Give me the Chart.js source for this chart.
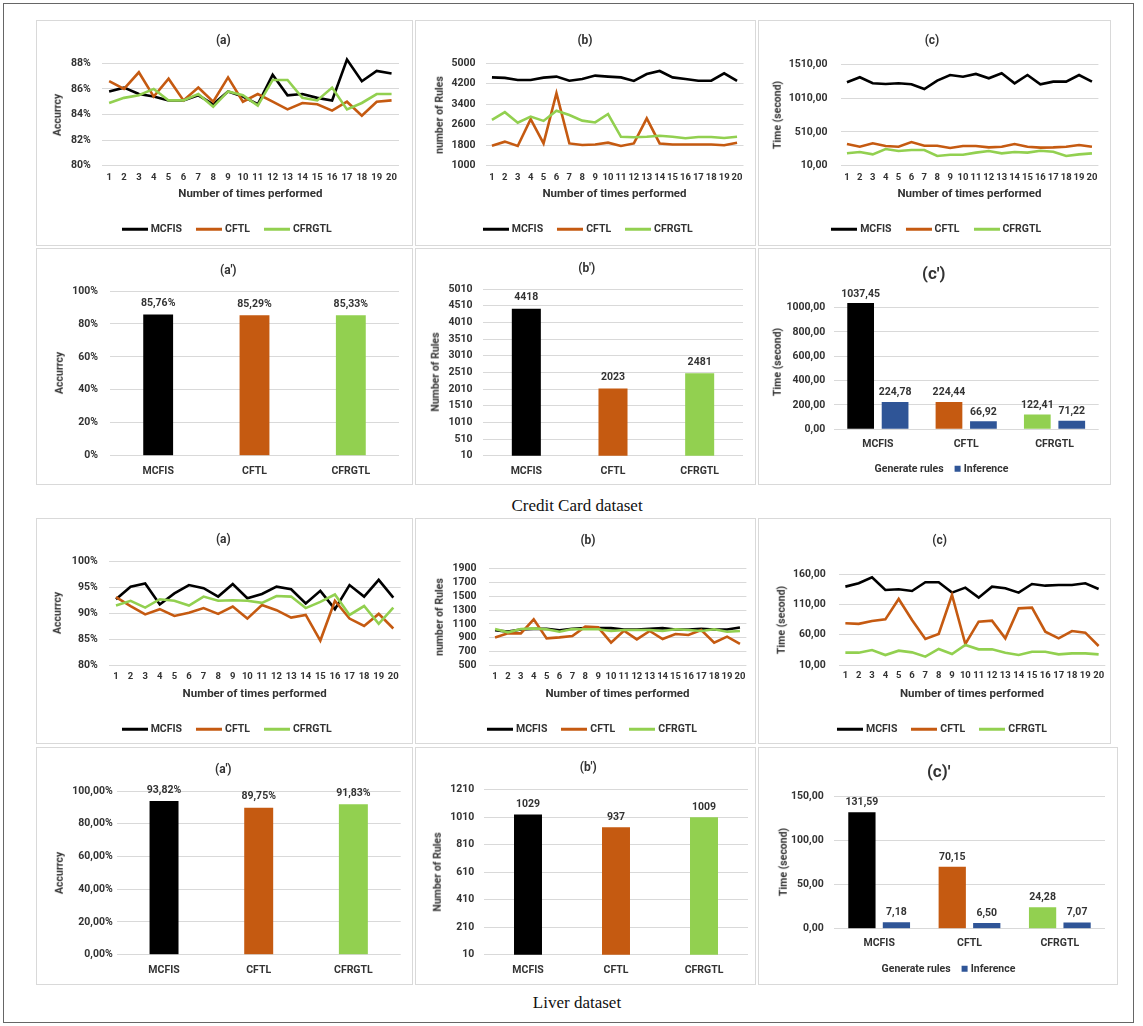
<!DOCTYPE html>
<html>
<head>
<meta charset="utf-8">
<title>MCFIS, CFTL, CFRGTL comparison</title>
<script src="https://cdn.jsdelivr.net/npm/chart.js@4.4.1/dist/chart.umd.min.js"></script>
<style>
  html, body { margin: 0; padding: 0; background: #fff; }
  body { position: relative; width: 1143px; height: 1026px; overflow: hidden; font-family: Roboto, "Open Sans", sans-serif; }
  #frame { position: absolute; left: 3px; top: 3px; width: 1131px; height: 1020px; border: 1px solid #666; box-sizing: border-box; }
  .panel { position: absolute; border: 1px solid #d9d9d9; box-sizing: border-box; background: #fff; }
  canvas { position: absolute; }
  .caption { position: absolute; transform: translate(-50%, -50%); font: 17px "Liberation Serif", "Times New Roman", serif; color: #111; white-space: nowrap; }
</style>
</head>
<body>
<div id="frame"></div>
<div class="caption" style="left:577px;top:506px">Credit Card dataset</div>
<div class="caption" style="left:577px;top:1003px">Liver dataset</div>
<script>
// ---------- categories ----------
const runs = ['1','2','3','4','5','6','7','8','9','10','11','12','13','14','15','16','17','18','19','20'];
const methods = ['MCFIS', 'CFTL', 'CFRGTL'];
const timeParts = ['Generate rules', 'Inference'];

// ---------- Credit Card: per-run results ----------
const creditAccMCFIS   = [85.8, 86.1, 85.6, 85.4, 85.1, 85.1, 85.5, 84.8, 85.8, 85.4, 84.8, 87.1, 85.5, 85.6, 85.3, 85.1, 88.3, 86.6, 87.4, 87.2];
const creditAccCFTL    = [86.6, 86.0, 87.3, 85.4, 86.8, 85.1, 86.1, 85.0, 86.9, 85.0, 85.6, 85.0, 84.4, 84.9, 84.8, 84.3, 85.0, 83.9, 85.0, 85.1];
const creditAccCFRGTL  = [84.9, 85.3, 85.5, 86.0, 85.1, 85.1, 85.6, 84.6, 85.8, 85.5, 84.7, 86.7, 86.7, 85.3, 85.1, 86.1, 84.4, 84.9, 85.6, 85.6];

const creditRulesMCFIS  = [4450, 4430, 4350, 4350, 4440, 4480, 4320, 4390, 4520, 4480, 4450, 4310, 4580, 4700, 4450, 4390, 4320, 4320, 4610, 4310];
const creditRulesCFTL   = [1780, 1940, 1770, 2820, 1870, 3830, 1870, 1810, 1830, 1900, 1770, 1870, 2850, 1870, 1830, 1830, 1830, 1830, 1800, 1900];
const creditRulesCFRGTL = [2790, 3090, 2680, 2920, 2750, 3150, 2980, 2760, 2690, 3020, 2130, 2110, 2130, 2170, 2130, 2070, 2120, 2120, 2080, 2130];

const creditTimeMCFIS  = [1244, 1318, 1229, 1219, 1229, 1214, 1145, 1268, 1352, 1327, 1367, 1303, 1377, 1229, 1352, 1214, 1253, 1253, 1352, 1253];
const creditTimeCFTL   = [331, 291, 341, 301, 291, 360, 306, 306, 272, 301, 301, 281, 291, 331, 291, 277, 281, 291, 316, 291];
const creditTimeCFRGTL = [193, 212, 178, 257, 227, 242, 242, 153, 173, 173, 203, 227, 193, 212, 203, 232, 217, 153, 178, 193];

// ---------- Credit Card: averages ----------
const creditAvgAcc   = [85.76, 85.29, 85.33];
const creditAvgRules = [4418, 2023, 2481];
const creditGenTime  = [1037.45, 224.44, 122.41];
const creditInfTime  = [224.78, 66.92, 71.22];

// ---------- Liver: per-run results ----------
const liverAccMCFIS  = [92.7, 95.1, 95.7, 91.7, 93.8, 95.4, 94.8, 93.2, 95.6, 92.9, 93.7, 95.1, 94.6, 91.9, 94.3, 90.8, 95.4, 93.2, 96.4, 93.0];
const liverAccCFTL   = [93.1, 91.4, 89.8, 90.8, 89.5, 90.1, 91.0, 89.9, 91.3, 89.0, 91.6, 90.6, 89.2, 89.7, 84.8, 92.4, 89.0, 87.6, 89.9, 87.1];
const liverAccCFRGTL = [91.5, 92.4, 91.1, 92.7, 92.4, 91.5, 93.2, 92.4, 92.5, 92.4, 92.0, 93.3, 93.2, 91.0, 92.2, 93.6, 89.7, 91.4, 88.0, 91.1];

const liverRulesMCFIS  = [1010, 990, 1020, 1030, 1030, 1010, 1030, 1040, 1040, 1040, 1020, 1020, 1030, 1040, 1020, 1020, 1030, 1020, 1020, 1050];
const liverRulesCFTL   = [907, 965, 965, 1166, 893, 907, 927, 1061, 1051, 831, 1003, 879, 999, 883, 955, 941, 1013, 831, 917, 812];
const liverRulesCFRGTL = [1027, 979, 1027, 1037, 1023, 989, 1027, 1023, 1023, 999, 1013, 1013, 1013, 999, 1023, 1013, 999, 1023, 989, 999];

const liverTimeMCFIS  = [139.6, 145.1, 155.0, 134.0, 135.2, 132.4, 146.8, 146.8, 129.7, 138.0, 121.4, 139.6, 136.8, 129.7, 144.0, 141.2, 142.4, 142.4, 145.1, 135.7];
const liverTimeCFTL   = [79.0, 78.0, 82.8, 85.5, 119.2, 84.4, 53.0, 61.3, 125.8, 44.7, 81.7, 83.3, 54.0, 103.7, 104.8, 65.1, 54.0, 66.2, 63.5, 41.4];
const liverTimeCFRGTL = [30.4, 30.4, 34.8, 26.5, 33.7, 30.9, 23.8, 36.5, 28.2, 43.1, 35.9, 35.9, 30.4, 26.5, 32.0, 32.0, 27.6, 29.3, 29.3, 27.6];

// ---------- Liver: averages ----------
const liverAvgAcc   = [93.82, 89.75, 91.83];
const liverAvgRules = [1029, 937, 1009];
const liverGenTime  = [131.59, 70.15, 24.28];
const liverInfTime  = [7.18, 6.50, 7.07];

// ---------- value-axis tick values ----------
const creditAccTicks      = [80, 82, 84, 86, 88];
const creditRulesTicks    = [1000, 1800, 2600, 3400, 4200, 5000];
const creditTimeTicks     = [10, 510, 1010, 1510];
const creditAvgAccTicks   = [0, 20, 40, 60, 80, 100];
const creditAvgRulesTicks = [10, 510, 1010, 1510, 2010, 2510, 3010, 3510, 4010, 4510, 5010];
const creditAvgTimeTicks  = [0, 200, 400, 600, 800, 1000];
const liverAccTicks       = [80, 85, 90, 95, 100];
const liverRulesTicks     = [500, 700, 900, 1100, 1300, 1500, 1700, 1900];
const liverTimeTicks      = [10, 60, 110, 160];
const liverAvgAccTicks    = [0, 20, 40, 60, 80, 100];
const liverAvgRulesTicks  = [10, 210, 410, 610, 810, 1010, 1210];
const liverAvgTimeTicks   = [0, 50, 100, 150];

// ---------- styling ----------
const methodColors = ['#000000', '#C55A11', '#92D050'];
const inferenceColor = '#2F5597';
const textColor = '#333333';
const gridColor = '#d9d9d9';
const FONT = 'Roboto, "Open Sans", sans-serif';

const pct0 = v => v + '%';
const dec2 = v => Number(v).toFixed(2).replace('.', ',');
const pct2 = v => dec2(v) + '%';
const int0 = v => String(v);

// value labels above bars
const barLabelSettings = new WeakMap();
Chart.register({
  id: 'barValueLabels',
  afterDatasetsDraw(chart) {
    const s = barLabelSettings.get(chart.canvas);
    if (!s) return;
    const ctx = chart.ctx;
    ctx.save();
    ctx.font = 'bold 10.5px ' + FONT;
    ctx.fillStyle = textColor;
    ctx.textAlign = 'center';
    ctx.textBaseline = 'alphabetic';
    chart.data.datasets.forEach((ds, i) => {
      chart.getDatasetMeta(i).data.forEach((el, j) => {
        ctx.fillText(s.fmt(ds.data[j]), el.x, el.y - s.gap + 4);
      });
    });
    ctx.restore();
  }
});

function addText(str, x, y, size, rot) {
  const d = document.createElement('div');
  d.textContent = str;
  d.style.cssText = 'position:absolute;left:' + x + 'px;top:' + y + 'px;font:700 ' + size + 'px ' + FONT +
    ';color:' + textColor + ';white-space:nowrap;line-height:1;transform:translate(-50%,-50%)' + (rot ? ' rotate(-90deg)' : '') + ';';
  document.body.appendChild(d);
}

function addLegend(items, cx, y, kind) {
  const wrap = document.createElement('div');
  wrap.style.cssText = 'position:absolute;left:' + cx + 'px;top:' + y + 'px;transform:translate(-50%,-50%);display:flex;align-items:center;gap:' +
    (kind === 'line' ? 14 : 11) + 'px;white-space:nowrap;font:700 10.5px ' + FONT + ';color:' + textColor + ';line-height:1;';
  items.forEach(([name, color]) => {
    const it = document.createElement('span');
    it.style.cssText = 'display:flex;align-items:center;gap:3px;';
    const sw = document.createElement('span');
    sw.style.cssText = kind === 'line'
      ? 'display:inline-block;width:26px;height:3px;background:' + color + ';'
      : 'display:inline-block;width:6px;height:6px;background:' + color + ';';
    const tx = document.createElement('span');
    tx.textContent = name;
    it.appendChild(sw); it.appendChild(tx);
    wrap.appendChild(it);
  });
  document.body.appendChild(wrap);
}

function makePanel(p) {
  const [bl, bt, br, bb] = p.box;
  const [al, at, ar, ab] = p.area;
  const frame = document.createElement('div');
  frame.className = 'panel';
  frame.style.cssText = 'left:' + bl + 'px;top:' + bt + 'px;width:' + (br - bl) + 'px;height:' + (bb - bt) + 'px;';
  document.body.appendChild(frame);

  const c = document.createElement('canvas');
  c.width = br - bl; c.height = bb - bt;
  c.style.left = bl + 'px'; c.style.top = bt + 'px';
  document.body.appendChild(c);

  // the value axis takes all the room left of the plot so its labels are never cut
  const yW = al - bl, xH = 24;
  const padding = { left: 0, top: at - bt, right: br - ar, bottom: bb - ab - xH };
  const tickVals = p.ticks;
  const yMin = tickVals[0];
  const yMax = p.max !== undefined ? p.max : tickVals[tickVals.length - 1];

  let datasets;
  if (p.kind === 'line') {
    datasets = p.series.map((d, i) => ({
      label: methods[i], data: d, borderColor: methodColors[i], backgroundColor: methodColors[i],
      borderWidth: 2.6, pointRadius: 0, tension: 0, fill: false, order: 2 - i, clip: 8
    }));
  } else if (p.kind === 'bar') {
    datasets = [{ label: 'avg', data: p.series[0], backgroundColor: methodColors, borderWidth: 0,
      barPercentage: p.barPct, categoryPercentage: 1 }];
  } else {
    datasets = [
      { label: timeParts[0], data: p.series[0], backgroundColor: methodColors, borderWidth: 0,
        barPercentage: p.barPct, categoryPercentage: p.catPct },
      { label: timeParts[1], data: p.series[1], backgroundColor: inferenceColor, borderWidth: 0,
        barPercentage: p.barPct, categoryPercentage: p.catPct }
    ];
  }

  if (p.labelFmt) barLabelSettings.set(c, { fmt: p.labelFmt, gap: p.labelGap });

  new Chart(c, {
    type: p.kind === 'line' ? 'line' : 'bar',
    data: { labels: p.kind === 'line' ? runs : methods, datasets },
    options: {
      responsive: false, animation: false, events: [],
      layout: { padding },
      plugins: { legend: { display: false }, title: { display: false }, tooltip: { enabled: false } },
      scales: {
        x: {
          type: 'category', offset: true,
          grid: { display: false, drawTicks: false }, border: { display: false },
          ticks: { color: textColor, font: { family: FONT, size: p.kind === 'line' ? 9.5 : 10.5, weight: 'bold' },
                   padding: p.xPad, maxRotation: 0, autoSkip: false },
          afterFit(s) { s.height = xH; }
        },
        y: {
          min: yMin, max: yMax,
          grid: { color: gridColor, lineWidth: 1, drawTicks: false }, border: { display: false },
          ticks: { color: textColor, font: { family: FONT, size: 10.5, weight: 'bold' }, padding: p.yPad,
                   autoSkip: false, callback: v => p.fmt(v) },
          afterBuildTicks(s) { s.ticks = tickVals.map(v => ({ value: v })); },
          afterFit(s) { s.width = yW; }
        }
      }
    }
  });

  // panel texts
  addText(p.title, p.titleXY[0], p.titleXY[1], p.titleSize || 12);
  addText(p.yTitle, p.yTitleX, (at + ab) / 2, 10.5, true);
  if (p.kind === 'line') {
    addText('Number of times performed', (al + ar) / 2, p.xTitleY, 11.5);
    addLegend(methods.map((m, i) => [m, methodColors[i]]), p.legendXY[0], p.legendXY[1], 'line');
  }
  if (p.kind === 'group') {
    addLegend([[timeParts[0], 'transparent'], [timeParts[1], inferenceColor]], p.legendXY[0], p.legendXY[1], 'bar');
  }
}

const panels = [
  // Credit Card dataset — per-run lines
  { kind: 'line', box: [36, 20, 413, 246], area: [101.7, 63.3, 399, 165.7], ticks: creditAccTicks, fmt: pct0,
    series: [creditAccMCFIS, creditAccCFTL, creditAccCFRGTL], yPad: 11, xPad: 6,
    title: '(a)', titleXY: [223.3, 40], yTitle: 'Accurrcy', yTitleX: 58.3, xTitleY: 194.3, legendXY: [226.7, 229] },
  { kind: 'line', box: [415, 20, 756, 246], area: [485.5, 63.3, 743.5, 165.7], ticks: creditRulesTicks, fmt: int0,
    series: [creditRulesMCFIS, creditRulesCFTL, creditRulesCFRGTL], yPad: 10, xPad: 6,
    title: '(b)', titleXY: [585, 40], yTitle: 'number of Rules', yTitleX: 440, xTitleY: 194.3, legendXY: [587.8, 229] },
  { kind: 'line', box: [758, 20, 1111, 246], area: [840.5, 64.3, 1098.4, 165.7], ticks: creditTimeTicks, fmt: dec2,
    series: [creditTimeMCFIS, creditTimeCFTL, creditTimeCFRGTL], yPad: 13, xPad: 6,
    title: '(c)', titleXY: [932, 40], yTitle: 'Time (second)', yTitleX: 777.7, xTitleY: 194.3, legendXY: [936.2, 229] },

  // Credit Card dataset — averages
  { kind: 'bar', box: [36, 248, 413, 485], area: [110, 291, 399, 455.7], ticks: creditAvgAccTicks, fmt: pct0,
    series: [creditAvgAcc], barPct: 0.31, yPad: 12, xPad: 9, labelFmt: pct2, labelGap: 12,
    title: "(a')", titleXY: [228.3, 270], yTitle: 'Accurrcy', yTitleX: 60 },
  { kind: 'bar', box: [415, 248, 756, 485], area: [483, 289, 743, 455.7], ticks: creditAvgRulesTicks, fmt: int0,
    series: [creditAvgRules], barPct: 0.335, yPad: 10.5, xPad: 9, labelFmt: int0, labelGap: 12.5,
    title: "(b')", titleXY: [586.7, 268.3], yTitle: 'Number of Rules', yTitleX: 435.7 },
  { kind: 'group', box: [758, 248, 1111, 485], area: [833.7, 295.5, 1098.7, 429.3], ticks: creditAvgTimeTicks, max: 1100, fmt: dec2,
    series: [creditGenTime, creditInfTime], catPct: 0.78, barPct: 0.776, yPad: 8.5, xPad: 9, labelFmt: dec2, labelGap: 10.5,
    title: "(c')", titleXY: [933.7, 273], titleSize: 17, yTitle: 'Time (second)', yTitleX: 777.7, legendXY: [937, 469] },

  // Liver dataset — per-run lines
  { kind: 'line', box: [36, 518, 413, 744], area: [108.7, 561, 400.6, 665.7], ticks: liverAccTicks, fmt: pct0,
    series: [liverAccMCFIS, liverAccCFTL, liverAccCFRGTL], yPad: 11, xPad: 5,
    title: '(a)', titleXY: [223.3, 539], yTitle: 'Accurrcy', yTitleX: 58.3, xTitleY: 694.3, legendXY: [226.7, 729] },
  { kind: 'line', box: [415, 518, 756, 744], area: [488.6, 568.3, 746.4, 665.7], ticks: liverRulesTicks, fmt: int0,
    series: [liverRulesMCFIS, liverRulesCFTL, liverRulesCFRGTL], yPad: 12, xPad: 5,
    title: '(b)', titleXY: [588, 540], yTitle: 'number of Rules', yTitleX: 440, xTitleY: 694.3, legendXY: [592, 729] },
  { kind: 'line', box: [758, 518, 1111, 744], area: [838.7, 574.3, 1105.3, 665], ticks: liverTimeTicks, fmt: dec2,
    series: [liverTimeMCFIS, liverTimeCFTL, liverTimeCFRGTL], yPad: 13, xPad: 5,
    title: '(c)', titleXY: [939.7, 540], yTitle: 'Time (second)', yTitleX: 782, xTitleY: 694.3, legendXY: [942, 729] },

  // Liver dataset — averages
  { kind: 'bar', box: [36, 747, 413, 985], area: [116.7, 791, 400.7, 954.7], ticks: liverAvgAccTicks, fmt: pct2,
    series: [liverAvgAcc], barPct: 0.306, yPad: 4, xPad: 9, labelFmt: pct2, labelGap: 12.4,
    title: "(a')", titleXY: [223.3, 768.7], yTitle: 'Accurrcy', yTitleX: 60 },
  { kind: 'bar', box: [415, 747, 756, 985], area: [484, 789.7, 748, 954.7], ticks: liverAvgRulesTicks, fmt: int0,
    series: [liverAvgRules], barPct: 0.318, yPad: 9.7, xPad: 9, labelFmt: int0, labelGap: 11.6,
    title: "(b')", titleXY: [588.3, 767], yTitle: 'Number of Rules', yTitleX: 437.7 },
  { kind: 'group', box: [758, 747, 1118, 985], area: [834, 796, 1105, 928.7], ticks: liverAvgTimeTicks, fmt: dec2,
    series: [liverGenTime, liverInfTime], catPct: 0.764, barPct: 0.79, yPad: 10.3, xPad: 8, labelFmt: dec2, labelGap: 11,
    title: "(c)'", titleXY: [938.7, 771], titleSize: 17, yTitle: 'Time (second)', yTitleX: 783.7, legendXY: [944, 968.7] }
];

panels.forEach(makePanel);
</script>
</body>
</html>
